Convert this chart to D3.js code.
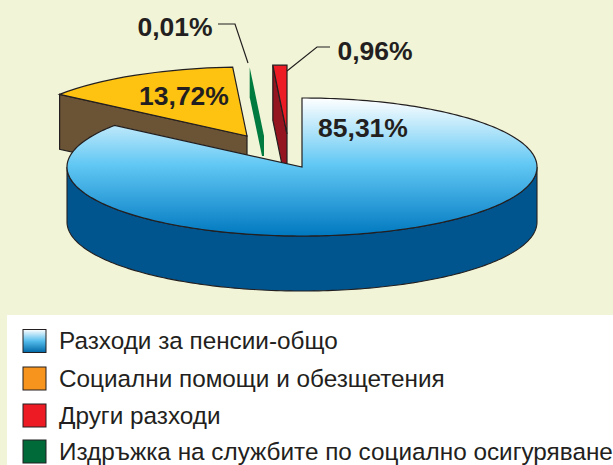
<!DOCTYPE html>
<html><head><meta charset="utf-8">
<script src="https://cdn.jsdelivr.net/npm/d3@7"></script>
<style>html,body{margin:0;padding:0;background:#f1f4d6}svg{display:block}</style>
</head><body><svg id="c" width="613" height="465"></svg>
<script>
const categories = ["Разходи за пенсии-общо","Социални помощи и обезщетения","Издръжка на службите по социално осигуряване","Други разходи"];
const values = [85.31,13.72,0.01,0.96];
const valueLabels = ["85,31%","13,72%","0,01%","0,96%"];
const legendOrder = [0,1,3,2];
const svg = d3.select("#c");
const rx=235, ry=69, depth=55;
const ink="#231f20";
const centers=[[302,167],[247,136],[264,136],[287,134]];
const topFill=["url(#gTop)","#fec210","#007b3f","#ed1c24"];
const wallFill=["#00558f","#6b5335","#007b3f","#94141f"];
const legendFill=["url(#gLeg)","#f7941d","#ed1c24","#006b38"];
const defs=svg.append("defs");
function grad(id,stops,y1,y2,units){
  const g=defs.append("linearGradient").attr("id",id).attr("x1",0).attr("x2",0);
  if(units) g.attr("gradientUnits","userSpaceOnUse");
  g.attr("y1",y1).attr("y2",y2);
  stops.forEach(s=>g.append("stop").attr("offset",s[0]).attr("stop-color",s[1]));
}
grad("gTop",[[0,"#ffffff"],[0.48,"#62c8f4"],[0.75,"#2f9fda"],[1,"#0078bf"]],-69,69,true);
grad("gLeg",[[0,"#ffffff"],[0.5,"#55bdec"],[1,"#0067a6"]],0,1,false);

const pie=d3.pie().sort(null).value(d=>d)(values);
const px=a=>rx*Math.sin(a), py=a=>-ry*Math.cos(a);
const line=d3.line();
const order=[3,2,1,0];
order.forEach(i=>{
  const p=pie[i],[cx,cy]=centers[i];
  const g=svg.append("g").attr("transform",`translate(${cx},${cy})`);
  const a0=p.startAngle,a1=p.endAngle;
  if(i===0){
    const as=d3.range(Math.PI/2,Math.PI*1.5+0.001,0.02);
    const top=as.map(a=>[px(a),py(a)]), bot=as.map(a=>[px(a),py(a)+depth]).reverse();
    g.append("path").attr("d",line(top.concat(bot))+"Z").attr("fill",wallFill[i]).attr("stroke",ink).attr("stroke-width",1.1);
  } else if(i===1||i===3){
    const x=px(a0),y=py(a0);
    g.append("path").attr("d",line([[x,y],[0,0],[0,depth],[x,y+depth]])+"Z").attr("fill",wallFill[i]).attr("stroke",ink).attr("stroke-width",1.2);
  } else {
    const x=px(a0),y=py(a0);
    g.append("path").attr("d",line([[x,y],[0,0],[0,20],[-2,20],[x,y+30]])+"Z").attr("fill",wallFill[i]);
  }
  if(i===0){
    const as=d3.range(a0,a1+0.001,0.02);
    g.append("path").attr("d",line([[0,0]].concat(as.map(a=>[px(a),py(a)])))+"Z")
     .attr("fill",topFill[0]).attr("stroke",ink).attr("stroke-width",1.2);
  } else if(i!==2){
    const arc=d3.arc().innerRadius(0).outerRadius(rx);
    g.append("path").attr("transform",`scale(1,${ry/rx})`).attr("d",arc({startAngle:a0,endAngle:a1}))
      .attr("fill",topFill[i]).attr("stroke",ink).attr("stroke-width",1.2).attr("vector-effect","non-scaling-stroke");
  }
});
const labelPos=[[363,137],[184,105],[175,36],[375,60]];
svg.append("g").selectAll("text").data(valueLabels).join("text")
 .attr("x",(d,i)=>labelPos[i][0]).attr("y",(d,i)=>labelPos[i][1])
 .attr("text-anchor","middle").attr("font-family","Liberation Sans").attr("font-weight",700).attr("font-size",26.5)
 .attr("fill",ink).text(d=>d);
svg.append("path").attr("d",line([[218,24],[235,24],[248,63]])).attr("fill","none").attr("stroke",ink).attr("stroke-width",1.2);
svg.append("path").attr("d",line([[330,47],[317,47],[287,71]])).attr("fill","none").attr("stroke",ink).attr("stroke-width",1.2);
svg.append("rect").attr("x",7).attr("y",315).attr("width",606).attr("height",150).attr("fill","#fff");
const rows=d3.scaleOrdinal().domain(legendOrder).range([341,378.5,415.5,451.5]);
const lg=svg.append("g").selectAll("g").data(legendOrder).join("g").attr("transform",d=>`translate(0,${rows(d)})`);
lg.append("rect").attr("x",23).attr("y",-11.5).attr("width",23).attr("height",23).attr("fill",(d,i)=>legendFill[i]).attr("stroke",ink).attr("stroke-width",1);
lg.append("text").attr("x",59).attr("y",8).attr("font-family","Liberation Sans").attr("font-size",24.3).attr("fill",ink).text(d=>categories[d]);
</script></body></html>
